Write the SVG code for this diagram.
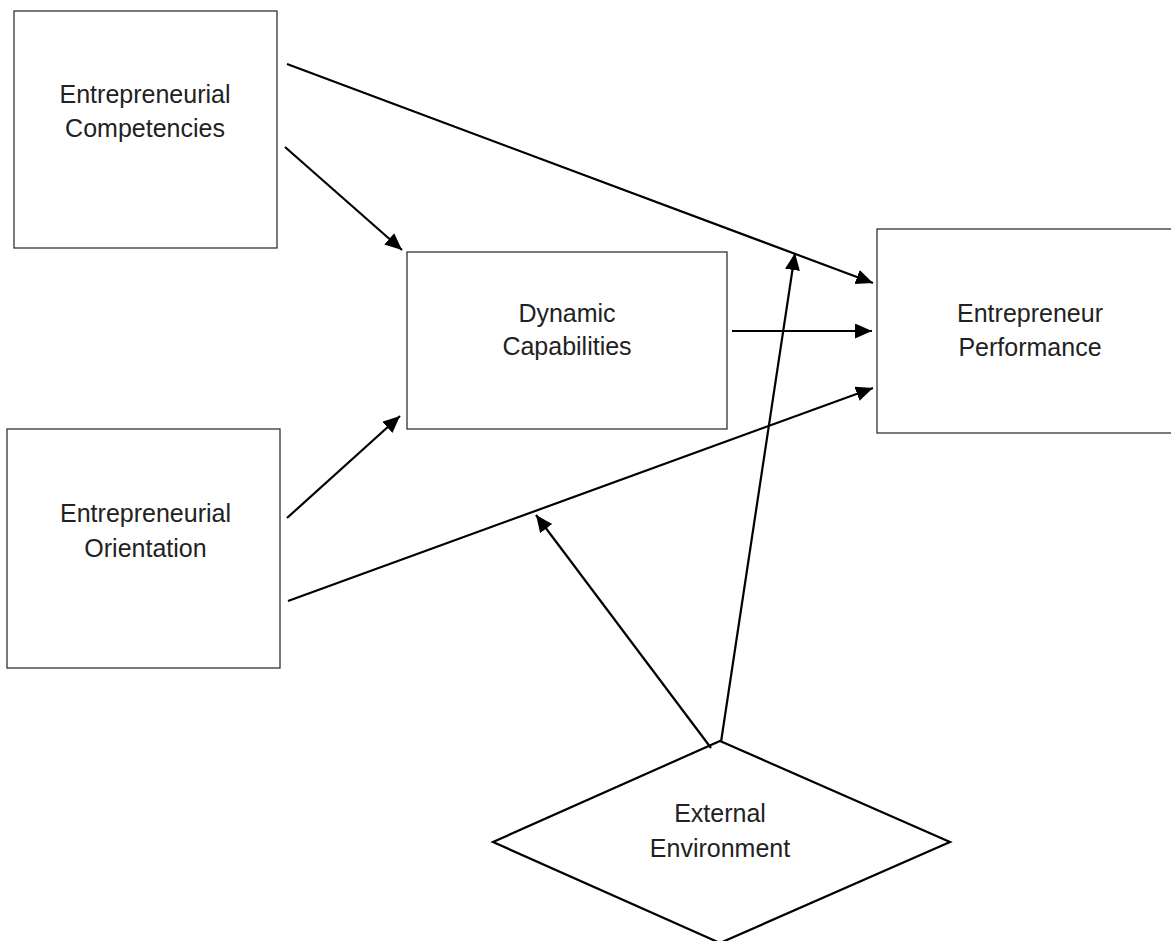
<svg xmlns="http://www.w3.org/2000/svg" width="1171" height="941" viewBox="0 0 1171 941">
<style>
.box{fill:#fff;stroke:#333;stroke-width:1.3}
.dia{fill:#fff;stroke:#000;stroke-width:2.2}
.lbl{font-family:"Liberation Sans",Arial,sans-serif;font-size:25px;fill:#222;text-anchor:middle}
.arr{stroke:#000;stroke-width:2.2;fill:none;marker-end:url(#ah)}
</style>
<defs>
<marker id="ah" markerUnits="userSpaceOnUse" markerWidth="18" markerHeight="16" refX="17" refY="7.5" orient="auto">
<path d="M0,0 L17,7.5 L0,15 z" fill="#000"/>
</marker>
</defs>
<rect width="1171" height="941" fill="#fff"/>
<g id="node-competencies">
<rect class="box" x="14" y="11" width="263" height="237"/>
<text class="lbl" x="145" y="103">Entrepreneurial</text>
<text class="lbl" x="145" y="137">Competencies</text>
</g>
<g id="node-dynamic">
<rect class="box" x="407" y="252" width="320" height="177"/>
<text class="lbl" x="567" y="322">Dynamic</text>
<text class="lbl" x="567" y="355">Capabilities</text>
</g>
<g id="node-performance">
<rect class="box" x="877" y="229" width="306" height="204"/>
<text class="lbl" x="1030" y="322">Entrepreneur</text>
<text class="lbl" x="1030" y="356">Performance</text>
</g>
<g id="node-orientation">
<rect class="box" x="7" y="429" width="273" height="239"/>
<text class="lbl" x="145.5" y="522">Entrepreneurial</text>
<text class="lbl" x="145.5" y="557">Orientation</text>
</g>
<g id="node-environment">
<polygon class="dia" points="720,741 950,842 720,943 493,842"/>
<text class="lbl" x="720" y="822">External</text>
<text class="lbl" x="720" y="857">Environment</text>
</g>
<g id="connectors">
<line class="arr" x1="287" y1="64" x2="873" y2="283"/>
<line class="arr" x1="285" y1="147" x2="402" y2="250"/>
<line class="arr" x1="732" y1="331" x2="872" y2="331"/>
<line class="arr" x1="287" y1="518" x2="400" y2="416"/>
<line class="arr" x1="288" y1="601" x2="873" y2="388"/>
<line class="arr" x1="721" y1="742" x2="795" y2="253"/>
<line class="arr" x1="711" y1="748" x2="536" y2="515"/>
</g>
</svg>
